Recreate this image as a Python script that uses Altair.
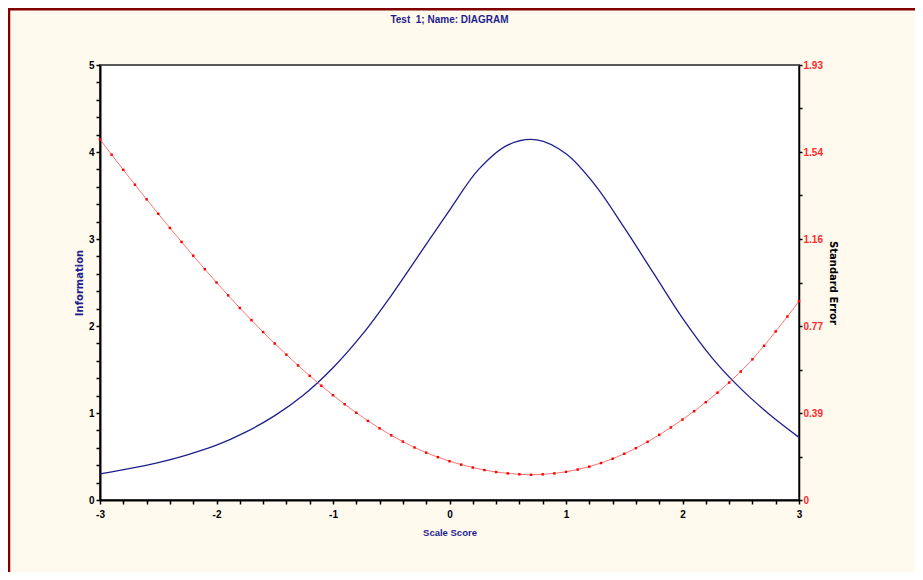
import altair as alt
import pandas as pd

# ---- data ----
info_score = [-3.0, -2.75, -2.5, -2.25, -2.0, -1.75, -1.5, -1.25, -1.0, -0.75, -0.5, -0.25,
              0.0, 0.25, 0.5, 0.75, 1.0, 1.25, 1.5, 1.75, 2.0, 2.25, 2.5, 2.75, 3.0]
information = [0.30, 0.36, 0.43, 0.52, 0.63, 0.78, 0.97, 1.21, 1.52, 1.90, 2.35, 2.84,
               3.33, 3.80, 4.08, 4.14, 3.98, 3.62, 3.13, 2.61, 2.09, 1.64, 1.28, 0.98, 0.72]

se_score = [-3.0, -2.9, -2.8, -2.7, -2.6, -2.5, -2.4, -2.3, -2.2, -2.1,
            -2.0, -1.9, -1.8, -1.7, -1.6, -1.5, -1.4, -1.3, -1.2, -1.1,
            -1.0, -0.9, -0.8, -0.7, -0.6, -0.5, -0.4, -0.3, -0.2, -0.1,
            0.0, 0.1, 0.2, 0.3, 0.4, 0.5, 0.6, 0.7, 0.8, 0.9,
            1.0, 1.1, 1.2, 1.3, 1.4, 1.5, 1.6, 1.7, 1.8, 1.9,
            2.0, 2.1, 2.2, 2.3, 2.4, 2.5, 2.6, 2.7, 2.8, 2.9, 3.0]
std_error = [1.600, 1.532, 1.465, 1.399, 1.334, 1.270, 1.207, 1.145, 1.084, 1.024,
             0.965, 0.908, 0.852, 0.798, 0.745, 0.694, 0.645, 0.597, 0.551, 0.507,
             0.465, 0.425, 0.387, 0.351, 0.318, 0.287, 0.259, 0.233, 0.210, 0.190,
             0.172, 0.157, 0.144, 0.133, 0.124, 0.118, 0.114, 0.112, 0.114, 0.118,
             0.125, 0.135, 0.148, 0.164, 0.183, 0.205, 0.230, 0.258, 0.289, 0.322,
             0.357, 0.394, 0.434, 0.476, 0.521, 0.570, 0.624, 0.684, 0.748, 0.814, 0.882]

x_ticks = [-3, -2.8, -2.6, -2.4, -2.2, -2, -1.8, -1.6, -1.4, -1.2, -1, -0.8, -0.6, -0.4, -0.2,
           0, 0.2, 0.4, 0.6, 0.8, 1, 1.2, 1.4, 1.6, 1.8, 2, 2.2, 2.4, 2.6, 2.8, 3]
info_ticks = [0, 0.2, 0.4, 0.6, 0.8, 1, 1.2, 1.4, 1.6, 1.8, 2, 2.2, 2.4, 2.6, 2.8,
              3, 3.2, 3.4, 3.6, 3.8, 4, 4.2, 4.4, 4.6, 4.8, 5]
se_ticks = [0, 0.193, 0.386, 0.579, 0.772, 0.965, 1.158, 1.351, 1.544, 1.737, 1.93]
se_tick_labels = ["0", "0.39", "0.77", "1.16", "1.54", "1.93"]

title_text = ["Test\u00a0 1; Name: DIAGRAM"]

NAVY = "#1E1E8E"
RED = "#FF2A2A"
CREAM = "#FFF9EE"
FONT = "Liberation Sans"

info_df = pd.DataFrame({"score": info_score, "info": information})
se_df = pd.DataFrame({"score": se_score, "se": std_error})
one = pd.DataFrame({"k": [0]})
title_df = pd.DataFrame({"t": title_text})

int_label = "abs(datum.value - round(datum.value)) < 0.001 ? '' + round(datum.value) : ''"
se_label_list = "[" + ",".join("'" + s + "'" for s in se_tick_labels) + "]"
se_label_expr = ("round(datum.value * 10 / 1.93) % 2 == 0 ? "
                 + se_label_list + "[round(datum.value * 5 / 1.93)] : ''")

x_axis = alt.Axis(values=x_ticks, labelExpr=int_label,
                  title="Scale Score", titleColor=NAVY, titleFont=FONT, titleFontSize=9.5,
                  titleFontWeight="bold", titlePadding=8,
                  labelFont=FONT, labelFontSize=10, labelFontWeight="bold", labelColor="black",
                  labelPadding=5, tickSize=4, tickColor="black", tickWidth=1.5,
                  domainColor="black", domainWidth=2, grid=False, labelFlush=False,
                  labelOverlap=False)

x_enc = alt.X("score:Q", scale=alt.Scale(domain=[-3, 3], nice=False, zero=False), axis=x_axis)

info_layer = alt.Chart(info_df).mark_line(color=NAVY, strokeWidth=1.3, interpolate="catmull-rom").encode(
    x=x_enc,
    y=alt.Y("info:Q", scale=alt.Scale(domain=[0, 5], nice=False),
            axis=alt.Axis(orient="left", values=info_ticks, labelExpr=int_label,
                          title="Information", titleColor=NAVY, titleFont="DejaVu Sans",
                          titleFontSize=10, titleFontWeight="bold", titlePadding=4,
                          labelFont=FONT, labelFontSize=10, labelFontWeight="bold",
                          labelColor="black", labelPadding=2, tickSize=4, tickColor="black",
                          tickWidth=1.5, domainColor="black", domainWidth=2, grid=False,
                          labelOverlap=False, labelFlush=False)),
)

se_layer = alt.Chart(se_df).mark_line(
    color="#FF5050", strokeWidth=0.8,
    point=alt.OverlayMarkDef(color="#FF0000", size=6, shape="square", filled=True),
).encode(
    x=x_enc,
    y=alt.Y("se:Q", scale=alt.Scale(domain=[0, 1.93], nice=False),
            axis=alt.Axis(orient="right", values=se_ticks, labelExpr=se_label_expr,
                          title="Standard Error", titleColor="black", titleFont="DejaVu Sans",
                          titleFontSize=10, titleFontWeight="bold", titlePadding=5,
                          labelFont=FONT, labelFontSize=10, labelFontWeight="bold",
                          labelColor=RED, labelPadding=1, tickSize=3, tickColor="black",
                          tickWidth=1.5, domainColor="black", domainWidth=1.5, grid=False,
                          labelOverlap=False, labelFlush=False)),
)

title_layer = alt.Chart(title_df).mark_text(
    font=FONT, fontSize=10, fontWeight="bold", color=NAVY, align="center", baseline="middle"
).encode(text="t:N", x=alt.value(349.5), y=alt.value(-45))

frame_left = alt.Chart(one).mark_rule(color="#800000", strokeWidth=2.5).encode(
    x=alt.value(-91), y=alt.value(-57), y2=alt.value(700))
frame_top = alt.Chart(one).mark_rule(color="#800000", strokeWidth=3).encode(
    x=alt.value(-92), x2=alt.value(1000), y=alt.value(-56))

chart = alt.layer(info_layer, se_layer, title_layer, frame_left, frame_top).resolve_scale(
    y="independent"
).properties(
    width=699, height=435,
    padding={"left": 92, "top": 57, "right": 116, "bottom": 72},
    autosize=alt.AutoSizeParams(type="none"),
    background=CREAM,
).configure_view(fill="white", stroke="#5A5A5A", strokeWidth=2)

chart.save("out.html", embed_options={"renderer": "svg", "actions": False})
